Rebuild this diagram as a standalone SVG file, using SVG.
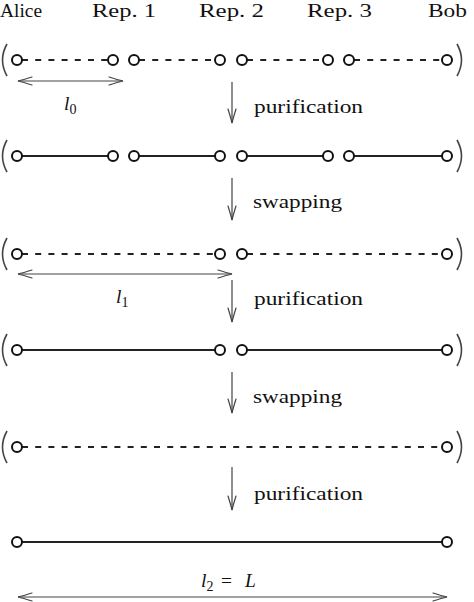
<svg xmlns="http://www.w3.org/2000/svg" width="474" height="602" viewBox="0 0 474 602">
<defs>
<marker id="ah" viewBox="-15 -5 16 10" refX="0" refY="0" markerWidth="16" markerHeight="10" markerUnits="userSpaceOnUse" orient="auto-start-reverse">
<path d="M-14,-4 Q-5,-1.2 0,0 Q-5,1.2 -14,4" fill="none" stroke="#444" stroke-width="1.2" stroke-linecap="round"/>
</marker>
</defs>
<style>
.it{font-style:italic}
.sub{font-size:14px}
.node circle{fill:#fff;stroke:#111;stroke-width:2}
.solid{stroke:#222;stroke-width:2;fill:none}
.dash{stroke:#222;stroke-width:2;fill:none;stroke-dasharray:6 7.2}
.arr{stroke:#444;stroke-width:1.2;fill:none;marker-end:url(#ah)}
.darr{stroke:#444;stroke-width:1.2;fill:none;marker-end:url(#ah);marker-start:url(#ah)}
.par{stroke:#444;stroke-width:1.6;fill:none}
</style>
<g id="labels" font-family="'Liberation Serif', 'DejaVu Serif', serif" font-size="19.5" fill="#111">
<text x="0" y="17" textLength="42" lengthAdjust="spacingAndGlyphs">Alice</text>
<text x="92" y="17" textLength="64" lengthAdjust="spacingAndGlyphs">Rep. 1</text>
<text x="199" y="17" textLength="65" lengthAdjust="spacingAndGlyphs">Rep. 2</text>
<text x="307" y="17" textLength="65" lengthAdjust="spacingAndGlyphs">Rep. 3</text>
<text x="428" y="17" textLength="39" lengthAdjust="spacingAndGlyphs">Bob</text>
<text x="254" y="113" textLength="109" lengthAdjust="spacingAndGlyphs">purification</text>
<text x="253" y="208" textLength="89" lengthAdjust="spacingAndGlyphs">swapping</text>
<text x="254" y="305" textLength="109" lengthAdjust="spacingAndGlyphs">purification</text>
<text x="253" y="403" textLength="89" lengthAdjust="spacingAndGlyphs">swapping</text>
<text x="254" y="500" textLength="109" lengthAdjust="spacingAndGlyphs">purification</text>
<text x="64" y="110"><tspan class="it">l</tspan><tspan class="sub" dy="4">0</tspan></text>
<text x="116" y="303"><tspan class="it">l</tspan><tspan class="sub" dy="4">1</tspan></text>
<text x="201" y="587"><tspan class="it">l</tspan><tspan class="sub" dy="4">2</tspan><tspan dy="-4" x="221">=</tspan><tspan class="it" x="245">L</tspan></text>
</g>
<g id="brackets">
<path class="par" d="M7,44 Q-2,60 7,76"/><path class="par" d="M457,44 Q466,60 457,76"/>
<path class="par" d="M7,140 Q-2,156 7,172"/><path class="par" d="M457,140 Q466,156 457,172"/>
<path class="par" d="M7,238 Q-2,254 7,270"/><path class="par" d="M457,238 Q466,254 457,270"/>
<path class="par" d="M7,334 Q-2,350 7,366"/><path class="par" d="M457,334 Q466,350 457,366"/>
<path class="par" d="M7,431 Q-2,447 7,463"/><path class="par" d="M457,431 Q466,447 457,463"/>
</g>
<g id="connectors">
<line class="dash" x1="22" y1="60" x2="108" y2="60"/>
<line class="dash" x1="139" y1="60" x2="215" y2="60"/>
<line class="dash" x1="247" y1="60" x2="323" y2="60"/>
<line class="dash" x1="354" y1="60" x2="442" y2="60"/>
<line class="solid" x1="17" y1="156" x2="113" y2="156"/>
<line class="solid" x1="134" y1="156" x2="220" y2="156"/>
<line class="solid" x1="242" y1="156" x2="328" y2="156"/>
<line class="solid" x1="349" y1="156" x2="447" y2="156"/>
<line class="dash" x1="22" y1="254" x2="215" y2="254"/>
<line class="dash" x1="247" y1="254" x2="442" y2="254"/>
<line class="solid" x1="17" y1="350" x2="220" y2="350"/>
<line class="solid" x1="242" y1="350" x2="447" y2="350"/>
<line class="dash" x1="22" y1="447" x2="442" y2="447"/>
<line class="solid" x1="17" y1="542" x2="447" y2="542"/>
<line class="darr" x1="18" y1="81" x2="123" y2="81"/>
<line class="darr" x1="18" y1="274" x2="232" y2="274"/>
<line class="darr" x1="18" y1="597" x2="447" y2="597"/>
<line class="arr" x1="232" y1="82" x2="232" y2="123"/>
<line class="arr" x1="232" y1="178" x2="232" y2="220"/>
<line class="arr" x1="232" y1="280" x2="232" y2="322"/>
<line class="arr" x1="232" y1="372" x2="232" y2="413"/>
<line class="arr" x1="232" y1="467" x2="232" y2="510"/>
</g>
<g id="row1" class="node">
<g id="r1-alice"><circle cx="17" cy="60" r="5"/></g>
<g id="r1-rep1a"><circle cx="113" cy="60" r="5"/></g>
<g id="r1-rep1b"><circle cx="134" cy="60" r="5"/></g>
<g id="r1-rep2a"><circle cx="220" cy="60" r="5"/></g>
<g id="r1-rep2b"><circle cx="242" cy="60" r="5"/></g>
<g id="r1-rep3a"><circle cx="328" cy="60" r="5"/></g>
<g id="r1-rep3b"><circle cx="349" cy="60" r="5"/></g>
<g id="r1-bob"><circle cx="447" cy="60" r="5"/></g>
</g>
<g id="row2" class="node">
<g id="r2-alice"><circle cx="17" cy="156" r="5"/></g>
<g id="r2-rep1a"><circle cx="113" cy="156" r="5"/></g>
<g id="r2-rep1b"><circle cx="134" cy="156" r="5"/></g>
<g id="r2-rep2a"><circle cx="220" cy="156" r="5"/></g>
<g id="r2-rep2b"><circle cx="242" cy="156" r="5"/></g>
<g id="r2-rep3a"><circle cx="328" cy="156" r="5"/></g>
<g id="r2-rep3b"><circle cx="349" cy="156" r="5"/></g>
<g id="r2-bob"><circle cx="447" cy="156" r="5"/></g>
</g>
<g id="row3" class="node">
<g id="r3-alice"><circle cx="17" cy="254" r="5"/></g>
<g id="r3-rep2a"><circle cx="220" cy="254" r="5"/></g>
<g id="r3-rep2b"><circle cx="242" cy="254" r="5"/></g>
<g id="r3-bob"><circle cx="447" cy="254" r="5"/></g>
</g>
<g id="row4" class="node">
<g id="r4-alice"><circle cx="17" cy="350" r="5"/></g>
<g id="r4-rep2a"><circle cx="220" cy="350" r="5"/></g>
<g id="r4-rep2b"><circle cx="242" cy="350" r="5"/></g>
<g id="r4-bob"><circle cx="447" cy="350" r="5"/></g>
</g>
<g id="row5" class="node">
<g id="r5-alice"><circle cx="17" cy="447" r="5"/></g>
<g id="r5-bob"><circle cx="447" cy="447" r="5"/></g>
</g>
<g id="row6" class="node">
<g id="r6-alice"><circle cx="17" cy="542" r="5"/></g>
<g id="r6-bob"><circle cx="447" cy="542" r="5"/></g>
</g>
</svg>
